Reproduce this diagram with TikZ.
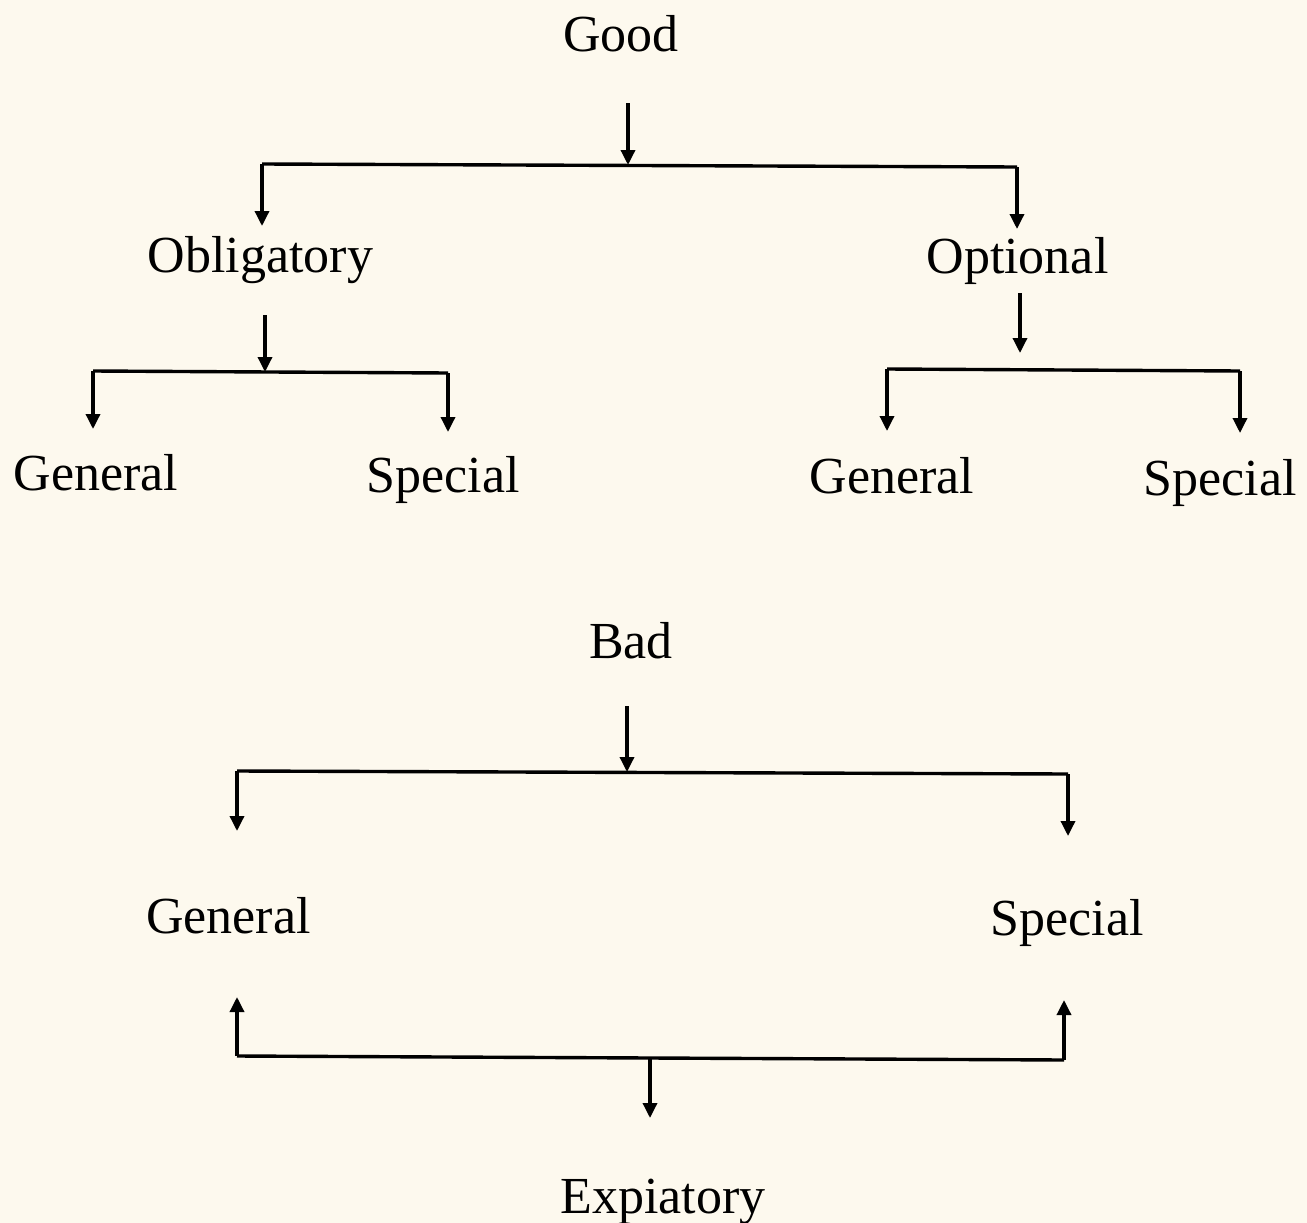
\documentclass[tikz,border=0pt]{standalone}
\usepackage{fontspec}
\setmainfont{Liberation Serif}
\usetikzlibrary{arrows.meta}
\definecolor{paper}{RGB}{253,249,238}
\begin{document}
\begin{tikzpicture}[x=1pt,y=-1pt,
  lbl/.style={anchor=base,inner sep=0pt,font=\fontsize{52}{60}\selectfont},
  conn/.style={line width=3.4pt,black},
  arr/.style={conn,-{Triangle[length=15pt,width=14pt]}}]
\fill[paper] (0,0) rectangle (1307,1223);
\useasboundingbox (0,0) rectangle (1307,1223);
% nodes
\node[lbl] (good) at (621,52) {Good};
\node[lbl] (obl) at (260.5,272) {Obligatory};
\node[lbl] (opt) at (1017.5,273) {Optional};
\node[lbl] (og) at (96,490) {General};
\node[lbl] (os) at (443,492) {Special};
\node[lbl] (pg) at (892,493) {General};
\node[lbl] (ps) at (1220,495) {Special};
\node[lbl] (bad) at (631,658) {Bad};
\node[lbl] (bg) at (228.5,933) {General};
\node[lbl] (bs) at (1067,935) {Special};
\node[lbl] (exp) at (663,1213) {Expiatory};
% junctions and tips
\coordinate (goodO) at (628,103);
\coordinate (j1) at (628,165);
\coordinate (j1L) at (262,164);
\coordinate (j1R) at (1017,167);
\coordinate (oblT) at (262,226);
\coordinate (optT) at (1017,229);
\coordinate (oblO) at (265,315);
\coordinate (j2) at (265,372);
\coordinate (j2L) at (93,371);
\coordinate (j2R) at (448,373);
\coordinate (ogT) at (93,429);
\coordinate (osT) at (448,432);
\coordinate (optO) at (1020,293);
\coordinate (j3) at (1020,353);
\coordinate (j3L) at (887,369);
\coordinate (j3R) at (1240,371);
\coordinate (pgT) at (887,431);
\coordinate (psT) at (1240,433);
\coordinate (badO) at (627,706);
\coordinate (j4) at (627,772);
\coordinate (j4L) at (237,771);
\coordinate (j4R) at (1068,774);
\coordinate (bgT) at (237,831);
\coordinate (bsT) at (1068,836);
\coordinate (j5L) at (237,1056);
\coordinate (j5R) at (1064,1060);
\coordinate (j5) at (650,1058);
\coordinate (bgB) at (237,997);
\coordinate (bsB) at (1064,1000);
\coordinate (expT) at (650,1118);
% connectors
\draw[arr] (goodO) -- (j1);
\draw[conn] (j1L) -- (j1R);
\draw[arr] (j1L) -- (oblT);
\draw[arr] (j1R) -- (optT);
\draw[arr] (oblO) -- (j2);
\draw[conn] (j2L) -- (j2R);
\draw[arr] (j2L) -- (ogT);
\draw[arr] (j2R) -- (osT);
\draw[arr] (optO) -- (j3);
\draw[conn] (j3L) -- (j3R);
\draw[arr] (j3L) -- (pgT);
\draw[arr] (j3R) -- (psT);
\draw[arr] (badO) -- (j4);
\draw[conn] (j4L) -- (j4R);
\draw[arr] (j4L) -- (bgT);
\draw[arr] (j4R) -- (bsT);
\draw[conn] (j5L) -- (j5R);
\draw[arr] (j5L) -- (bgB);
\draw[arr] (j5R) -- (bsB);
\draw[arr] (j5) -- (expT);
\end{tikzpicture}
\end{document}
